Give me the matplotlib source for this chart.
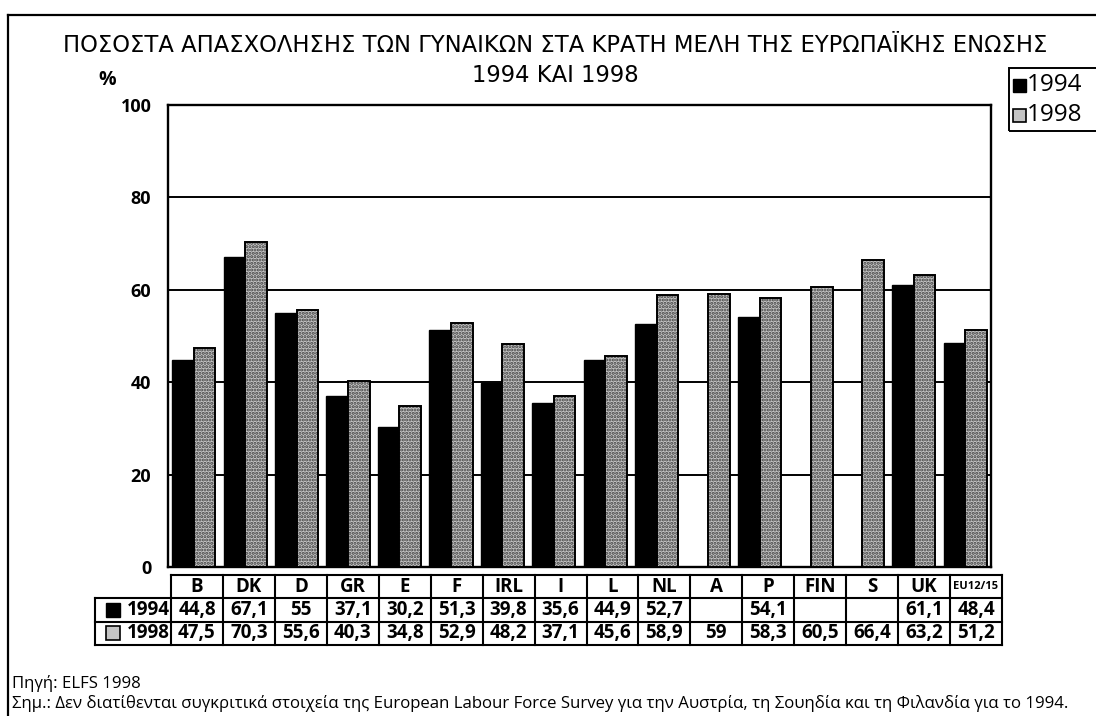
import matplotlib
matplotlib.use("Agg")
import matplotlib.pyplot as plt
from matplotlib.patches import Rectangle
import numpy as np

# === 数据 ===
countries = ["B", "DK", "D", "GR", "E", "F", "IRL", "I", "L", "NL", "A", "P", "FIN", "S", "UK", "EU12/15"]
v1994 = [44.8, 67.1, 55, 37.1, 30.2, 51.3, 39.8, 35.6, 44.9, 52.7, None, 54.1, None, None, 61.1, 48.4]
v1998 = [47.5, 70.3, 55.6, 40.3, 34.8, 52.9, 48.2, 37.1, 45.6, 58.9, 59, 58.3, 60.5, 66.4, 63.2, 51.2]
years = ["1994", "1998"]
yticks = [0, 20, 40, 60, 80, 100]

title = "ΠΟΣΟΣΤΑ ΑΠΑΣΧΟΛΗΣΗΣ ΤΩΝ ΓΥΝΑΙΚΩΝ ΣΤΑ ΚΡΑΤΗ ΜΕΛΗ ΤΗΣ ΕΥΡΩΠΑΪΚΗΣ ΕΝΩΣΗΣ"
subtitle = "1994 ΚΑΙ 1998"
source = "Πηγή: ELFS 1998"
note = ("Σημ.: Δεν διατίθενται συγκριτικά στοιχεία της European Labour Force Survey "
        "για την Αυστρία, τη Σουηδία και τη Φιλανδία για το 1994.")

plt.rcParams["font.family"] = ["Open Sans", "DejaVu Sans"]
plt.rcParams["hatch.linewidth"] = 1.5

W, H = 1096, 716
fig = plt.figure(figsize=(W / 100, H / 100), dpi=100)

def box(x0, y0, x1, y1):
    # 像素坐标 -> figure 坐标
    return [x0 / W, 1 - y1 / H, (x1 - x0) / W, (y1 - y0) / H]

GREY = "#c4c4c4"
DOTS = "#404040"

# === 外框 ===
fig.add_artist(plt.Line2D([8 / W, 8 / W], [0, 1 - 15 / H], color="black", lw=1.6))
fig.add_artist(plt.Line2D([8 / W, 1], [1 - 15 / H, 1 - 15 / H], color="black", lw=1.6))

# === 标题 ===
tfont = ["DejaVu Sans"]
fig.text(555 / W, 1 - 45 / H, title, ha="center", va="center", fontsize=16.3, family=tfont)
fig.text(555 / W, 1 - 75 / H, subtitle, ha="center", va="center", fontsize=16.3, family=tfont)

# === 主图 ===
ax = fig.add_axes(box(168, 105, 991, 567))
x = np.arange(len(countries))
bw = 0.42
h94 = [np.nan if v is None else v for v in v1994]
ax.bar(x - bw / 2, h94, bw, color="black", edgecolor="black", lw=1, zorder=3)
ax.bar(x + bw / 2, v1998, bw, color=GREY, edgecolor=DOTS, hatch=".....", lw=0, zorder=3)
ax.bar(x + bw / 2, v1998, bw, fill=False, edgecolor="black", lw=1.4, zorder=4)
ax.set_xlim(-0.5, len(countries) - 0.5)
ax.set_ylim(0, 100)
ax.set_xticks([])
ax.set_yticks(yticks)
ax.tick_params(axis="y", length=0, pad=12, labelsize=13)
for t in ax.get_yticklabels():
    t.set_fontweight("bold")
for yv in yticks[1:-1]:
    ax.axhline(yv, color="black", lw=1.4, zorder=1)
for s in ax.spines.values():
    s.set_linewidth(1.7)
fig.text(107 / W, 1 - 80 / H, "%", ha="center", va="center", fontsize=14, fontweight="bold")

# === 图例 ===
fig.add_artist(Rectangle((1009 / W, 1 - 131 / H), 0.2, 63 / H, transform=fig.transFigure,
                         fill=False, edgecolor="black", lw=1.4))
fig.add_artist(Rectangle((1013 / W, 1 - 92 / H), 13 / W, 13 / H, transform=fig.transFigure,
                         facecolor="black", edgecolor="black", lw=1))
fig.add_artist(Rectangle((1013 / W, 1 - 122 / H), 13 / W, 13 / H, transform=fig.transFigure,
                         facecolor=GREY, edgecolor="black", lw=1.2))
fig.text(1027 / W, 1 - 85 / H, years[0], ha="left", va="center", fontsize=17.5)
fig.text(1027 / W, 1 - 115 / H, years[1], ha="left", va="center", fontsize=17.5)

# === 数据表 ===
tax = fig.add_axes(box(171, 575, 1002, 645))
tax.set_xlim(-0.5, len(countries) - 0.5)
tax.set_ylim(3, 0)
tax.axis("off")
n = len(countries)
cw = (1002 - 171) / n
xl = -0.5 - (171 - 95) / cw
for r in range(4):
    x0 = -0.5 if r == 0 else xl
    tax.plot([x0, n - 0.5], [r, r], color="black", lw=1.5, clip_on=False)
for c in range(n + 1):
    tax.plot([c - 0.5, c - 0.5], [0, 3], color="black", lw=1.5, clip_on=False)
tax.plot([xl, xl], [1, 3], color="black", lw=1.5, clip_on=False)

def fmt(v):
    if v is None:
        return ""
    s = f"{v:.1f}".replace(".", ",")
    return s[:-2] if s.endswith(",0") else s

fs_t = 13.5
for i, name in enumerate(countries):
    fs = 8 if len(name) > 4 else fs_t
    tax.text(i, 0.5, name, ha="center", va="center", fontsize=fs, fontweight="bold")
    tax.text(i, 1.5, fmt(v1994[i]), ha="center", va="center", fontsize=fs_t, fontweight="bold")
    tax.text(i, 2.5, fmt(v1998[i]), ha="center", va="center", fontsize=fs_t, fontweight="bold")

sqx = xl + (106 - 95) / cw
tax.add_patch(Rectangle((sqx, 1.5 - 0.3), 14 / cw, 0.6, facecolor="black",
                        edgecolor="black", clip_on=False))
tax.add_patch(Rectangle((sqx, 2.5 - 0.3), 14 / cw, 0.6, facecolor=GREY,
                        edgecolor="black", lw=1.2, clip_on=False))
for r, yr in enumerate(years):
    tax.text(-0.5 - 1.5 / cw, 1.5 + r, yr, ha="right", va="center", fontsize=fs_t,
             fontweight="bold", clip_on=False)

# === 注释 ===
fig.text(12 / W, 1 - 683 / H, source, ha="left", va="center", fontsize=12.1)
fig.text(12 / W, 1 - 703 / H, note, ha="left", va="center", fontsize=12.1)

fig.savefig("out.png", dpi=100)
